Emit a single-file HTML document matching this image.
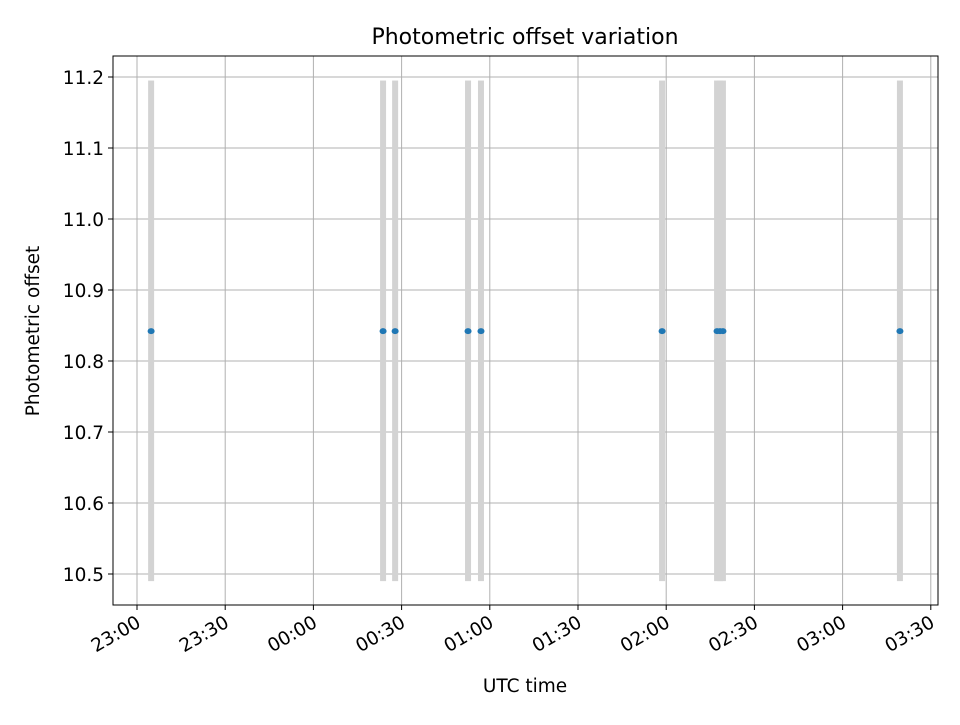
<!DOCTYPE html>
<html><head><meta charset="utf-8"><style>
body{margin:0;background:#fff}
svg text{font-family:"DejaVu Sans","Liberation Sans",sans-serif;fill:#000}
</style></head><body>
<svg id="c" width="960" height="720" viewBox="0 0 960 720">
<rect width="960" height="720" fill="#fff"/>
<g id="grid"></g><g id="bars"></g><g id="pts"></g><g id="axes"></g>
<text x="525" y="44" font-size="22" text-anchor="middle">Photometric offset variation</text>
<text x="525" y="692" font-size="18.5" text-anchor="middle">UTC time</text>
<text transform="translate(39,331) rotate(-90)" font-size="18.5" text-anchor="middle">Photometric offset</text>
</svg>
<script>
// minutes after 23:00
const times = [4.8, 83.7, 87.8, 112.6, 117.0, 178.6, 197.3, 198.3, 199.3, 259.5];
const offsets = [10.842, 10.842, 10.842, 10.842, 10.842, 10.842, 10.842, 10.842, 10.842, 10.842];
const barLow = 10.49, barHigh = 11.195;
const xTickLabels = ["23:00","23:30","00:00","00:30","01:00","01:30","02:00","02:30","03:00","03:30"];
const yTickLabels = ["10.5","10.6","10.7","10.8","10.9","11.0","11.1","11.2"];
const L=113,R=938,T=56,B=605;
const xs = m => 137 + m*(88.2/30);
const ys = v => 77 + (11.2 - v)*710;
const NS="http://www.w3.org/2000/svg";
function mk(p,t,a){const e=document.createElementNS(NS,t);for(const k in a)e.setAttribute(k,a[k]);document.getElementById(p).appendChild(e);return e;}
xTickLabels.forEach((lab,i)=>{
  const x=xs(i*30);
  const g=mk('grid','line',{x1:x,x2:x,y1:T,y2:B,stroke:'#b0b0b0','stroke-width':1});
  
  
  const tk=mk('axes','line',{x1:x,x2:x,y1:B,y2:B+5,stroke:'#000','stroke-width':1});
  
  
  const t=mk('axes','text',{'font-size':18.5,'text-anchor':'end',transform:`translate(${x+5},${B+21}) rotate(-30)`});
  t.textContent=lab;
  
  
});
yTickLabels.forEach(lab=>{
  const y=ys(parseFloat(lab));
  const g=mk('grid','line',{x1:L,x2:R,y1:y,y2:y,stroke:'#b0b0b0','stroke-width':1});
  
  
  const tk=mk('axes','line',{x1:L-5,x2:L,y1:y,y2:y,stroke:'#000','stroke-width':1});
  
  
  const t=mk('axes','text',{x:L-9,y:y+7,'font-size':18.5,'text-anchor':'end'});
  t.textContent=lab;
  
  
});
times.forEach((m,i)=>{
  const x=xs(m);
  const b=mk('bars','rect',{x:x-3,y:ys(barHigh),width:6,height:ys(barLow)-ys(barHigh),fill:'#d3d3d3'});
  
  
  const p=mk('pts','ellipse',{cx:x,cy:ys(offsets[i]),rx:3.5,ry:3,fill:'#1f77b4'});
  
  
});
const f=mk('axes','rect',{x:L,y:T,width:R-L,height:B-T,fill:'none',stroke:'#000','stroke-width':1});


</script>
</body></html>
